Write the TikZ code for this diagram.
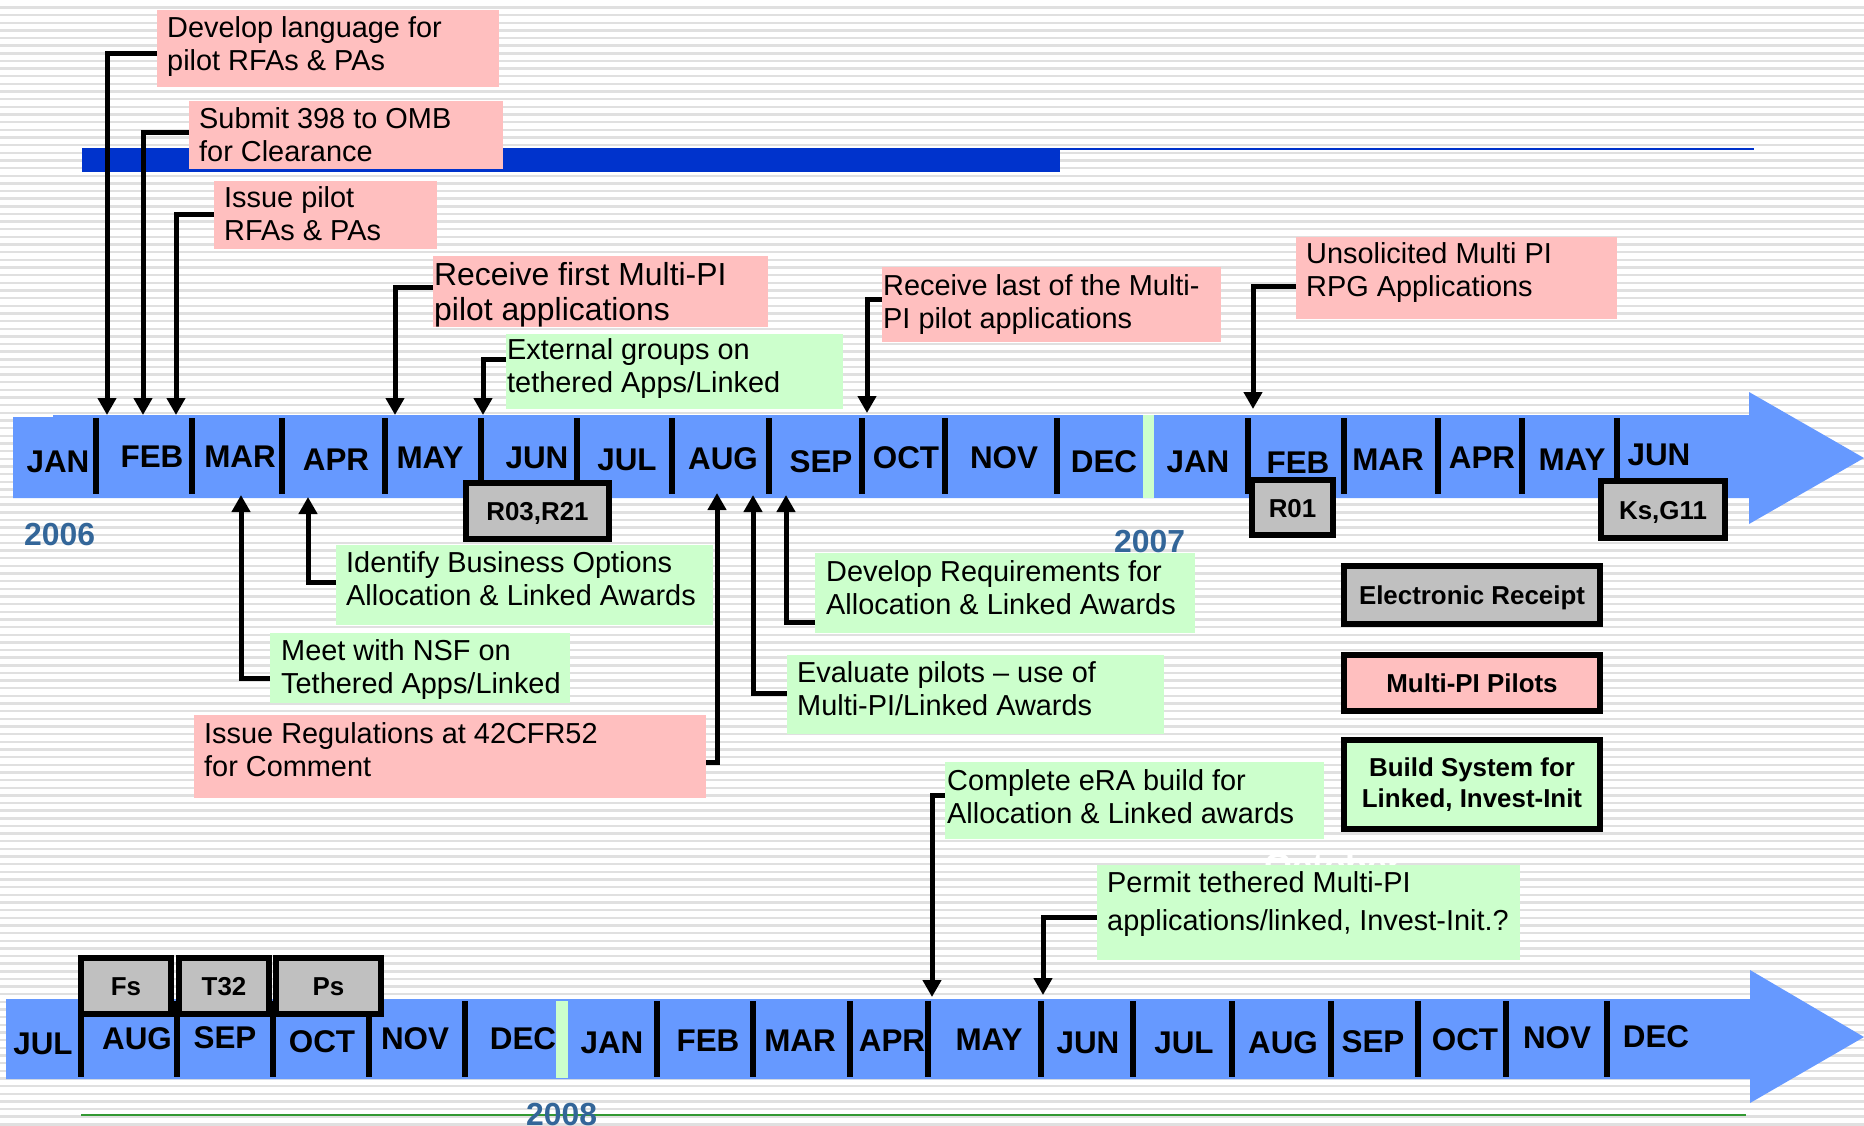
\documentclass[tikz,border=0pt]{standalone}
\usepackage{fontspec}
\setmainfont{Liberation Sans}
\usetikzlibrary{arrows.meta, positioning, calc}
\definecolor{barblue}{HTML}{6699FF}
\definecolor{bandblue}{HTML}{0033CC}
\definecolor{pinkfill}{HTML}{FFBFBF}
\definecolor{greenfill}{HTML}{CCFFCC}
\definecolor{grayfill}{HTML}{C0C0C0}
\definecolor{yearblue}{HTML}{336699}
\definecolor{stripegray}{HTML}{E0E0E0}
\definecolor{linegreen}{HTML}{339933}

\begin{document}
\begin{tikzpicture}[x=1bp, y=-1bp,
	conn/.style={line width=5bp, -{Triangle[width=18bp,length=17bp]}},
	pinkbox/.style={fill=pinkfill, anchor=north west, inner sep=0bp},
	greenbox/.style={fill=greenfill, anchor=north west, inner sep=0bp},
	txt/.style={font=\fontsize{29}{33.5}\selectfont, align=left, anchor=north west, inner sep=0bp},
	mon/.style={font=\bfseries\fontsize{31.5}{36}\selectfont, anchor=base, inner sep=0bp},
	monsep/.style={line width=6bp},
	tag/.style={draw, line width=6bp, fill=grayfill, inner sep=0bp, text height=19bp, text depth=0bp, font=\bfseries\fontsize{26}{30}\selectfont},
	legend/.style={draw, line width=6bp, minimum width=256bp, inner sep=0bp, align=center, font=\bfseries\fontsize{26}{31}\selectfont},
	year/.style={text=yearblue, font=\bfseries\fontsize{32}{36}\selectfont, anchor=base west, inner sep=0bp}]
	\useasboundingbox (0,0) rectangle (1864,1125);
	\fill[white] (0,0) rectangle (1864,1125);
	\foreach \k in {0,...,146}
		\fill[stripegray] (0,6.2+7.65*\k) rectangle (1864,8.6+7.65*\k);

	\fill[bandblue] (82,148) rectangle (1060,172);
	\draw[bandblue, line width=2bp] (1060,149) -- (1754,149);

	\fill[barblue] (13,417) -- (53,417) -- (53,415) -- (1749,415) -- (1749,392) -- (1864,458)
		-- (1749,524) -- (1749,498) -- (13,498) -- cycle;
	\fill[greenfill] (1143,415) rectangle (1154,498);
	\foreach \x in {96,192,282,385,481,577,672,769,862,945,1057,1248,1344,1438,1522,1617}
		\draw[monsep] (\x,418) -- (\x,494);
	\foreach \m/\x/\y [count=\i] in {JAN/58/472, FEB/152/467, MAR/240/467, APR/336/470, MAY/430/468,
		JUN/537/468, JUL/627/470, AUG/723/469, SEP/821/472, OCT/906/468, NOV/1004/468, DEC/1104/472,
		JAN/1198/472, FEB/1298/473, MAR/1388/470, APR/1482/468, MAY/1572/470, JUN/1659/465}
		\node[mon] (top\i) at (\x,\y) {\m};

	\fill[barblue] (6,999) -- (1750,999) -- (1750,970) -- (1864,1037) -- (1750,1103)
		-- (1750,1079) -- (6,1079) -- cycle;
	\fill[greenfill] (556,1001) rectangle (568,1078);
	\foreach \x in {81,177,273,369,465,657,753,850,928,1041,1133,1232,1331,1418,1506,1607}
		\draw[monsep] (\x,1001) -- (\x,1077);
	\foreach \m/\x/\y [count=\i] in {JUL/43/1054, AUG/137/1049, SEP/225/1048, OCT/322/1052, NOV/415/1049,
		DEC/523/1049, JAN/612/1053, FEB/708/1051, MAR/800/1051, APR/892/1051, MAY/989/1050, JUN/1088/1053,
		JUL/1184/1053, AUG/1283/1053, SEP/1373/1052, OCT/1465/1050, NOV/1557/1048, DEC/1656/1047}
		\node[mon] (bot\i) at (\x,\y) {\m};
	\draw[linegreen, line width=2.5bp] (81,1115) -- (1746,1115);

	\node[year] (y2006) at (24,545) {2006};
	\node[year] (y2007) at (1114,552) {2007};
	\node[year] (y2008) at (526,1125) {2008};

	\node[tag, minimum width=143bp, minimum height=56bp] (r03) at (537.5,511) {R03,R21};
	\node[tag, minimum width=81bp, minimum height=55bp] (r01) at (1292.5,507.5) {R01};
	\node[tag, minimum width=124bp, minimum height=57bp] (ks) at (1663,509.5) {Ks,G11};
	\node[tag, minimum width=90bp, minimum height=56bp] (fs) at (126,986) {Fs};
	\node[tag, minimum width=90bp, minimum height=56bp] (t32) at (224,986) {T32};
	\node[tag, minimum width=105bp, minimum height=56bp] (ps) at (328.5,986) {Ps};

	\node[pinkbox, minimum width=342bp, minimum height=77bp] (dev) at (157,10) {};
	\node[txt] (dev-t) at ([shift={(10bp,-6bp)}]dev.north west) {Develop language for\\pilot RFAs \& PAs};
	\node[pinkbox, minimum width=314bp, minimum height=68bp] (sub) at (189,101) {};
	\node[txt] (sub-t) at ([shift={(10bp,-6bp)}]sub.north west) {Submit 398 to OMB\\for Clearance};
	\node[pinkbox, minimum width=223bp, minimum height=68bp] (iss) at (214,181) {};
	\node[txt] (iss-t) at ([shift={(10bp,-5bp)}]iss.north west) {Issue pilot\\RFAs \& PAs};
	\node[pinkbox, minimum width=335bp, minimum height=71bp] (rf) at (433,256) {};
	\node[txt, font=\fontsize{32}{35}\selectfont] (rf-t) at ([shift={(1bp,-6bp)}]rf.north west) {Receive first Multi-PI\\pilot applications};
	\node[greenbox, minimum width=337bp, minimum height=75bp] (ext) at (506,334) {};
	\node[txt] (ext-t) at ([shift={(1bp,-4bp)}]ext.north west) {External groups on\\tethered Apps/Linked};
	\node[pinkbox, minimum width=339bp, minimum height=75bp] (rl) at (882,267) {};
	\node[txt] (rl-t) at ([shift={(1bp,-7bp)}]rl.north west) {Receive last of the Multi-\\PI pilot applications};
	\node[pinkbox, minimum width=321bp, minimum height=82bp] (uns) at (1296,237) {};
	\node[txt] (uns-t) at ([shift={(10bp,-5bp)}]uns.north west) {Unsolicited Multi PI\\RPG Applications};

	\node[greenbox, minimum width=377bp, minimum height=80bp] (idb) at (336,545) {};
	\node[txt] (idb-t) at ([shift={(10bp,-6bp)}]idb.north west) {Identify Business Options\\Allocation \& Linked Awards};
	\node[greenbox, minimum width=300bp, minimum height=70bp] (nsf) at (270,633) {};
	\node[txt] (nsf-t) at ([shift={(11bp,-6bp)}]nsf.north west) {Meet with NSF on\\Tethered Apps/Linked};
	\node[pinkbox, minimum width=512bp, minimum height=83bp] (reg) at (194,715) {};
	\node[txt] (reg-t) at ([shift={(10bp,-7bp)}]reg.north west) {Issue Regulations at 42CFR52\\for Comment};
	\node[greenbox, minimum width=380bp, minimum height=80bp] (dreq) at (815,553) {};
	\node[txt] (dreq-t) at ([shift={(11bp,-7bp)}]dreq.north west) {Develop Requirements for\\Allocation \& Linked Awards};
	\node[greenbox, minimum width=377bp, minimum height=79bp] (eva) at (787,655) {};
	\node[txt] (eva-t) at ([shift={(10bp,-6bp)}]eva.north west) {Evaluate pilots -- use of\\Multi-PI/Linked Awards};
	\node[greenbox, minimum width=379bp, minimum height=77bp] (era) at (945,762) {};
	\node[txt] (era-t) at ([shift={(2bp,-7bp)}]era.north west) {Complete eRA build for\\Allocation \& Linked awards};
	\node[text=white, font=\bfseries\fontsize{36}{40}\selectfont, anchor=base, inner sep=0bp] (oct) at (1333,878) {October};
	\node[greenbox, minimum width=423bp, minimum height=95bp] (per) at (1097,865) {};
	\node[txt, font=\fontsize{29}{38}\selectfont] (per-t) at ([shift={(10bp,-6bp)}]per.north west) {Permit tethered Multi-PI\\applications/linked, Invest-Init.?};

	\node[legend, fill=grayfill, minimum height=58bp, text height=19bp, text depth=0bp] (er) at (1472,595) {Electronic Receipt};
	\node[legend, fill=pinkfill, minimum height=56bp, text height=19bp, text depth=0bp] (mp) at (1472,683) {Multi-PI Pilots};
	\node[legend, fill=greenfill, minimum height=89bp] (bs) at (1472,784.5) {Build System for\\Linked, Invest-Init};

	\coordinate (tdev) at (107,415);
	\coordinate (tsub) at (143,415);
	\coordinate (tiss) at (176,415);
	\coordinate (trf) at (395,415);
	\coordinate (text) at (483,415);
	\coordinate (trl) at (867,413);
	\coordinate (tuns) at (1253,409);
	\coordinate (tnsf) at (241,495);
	\coordinate (tidb) at (308,497);
	\coordinate (treg) at (717,493);
	\coordinate (teva) at (753,495);
	\coordinate (tdreq) at (786,495);
	\coordinate (tera) at (932,997);
	\coordinate (tper) at (1043,995);

	\draw[conn] ([yshift=-4.5bp]dev.west) -| (tdev);
	\draw[conn] ([yshift=3bp]sub.west) -| (tsub);
	\draw[conn] ([yshift=1bp]iss.west) -| (tiss);
	\draw[conn] ([yshift=4.5bp]rf.west) -| (trf);
	\draw[conn] ([yshift=12.5bp]ext.west) -| (text);
	\draw[conn] ([yshift=5bp]rl.west) -| (trl);
	\draw[conn] ([yshift=-8bp]uns.west) -| (tuns);
	\draw[conn] ([yshift=-10bp]nsf.west) -| (tnsf);
	\draw[conn] ([yshift=3bp]idb.west) -| (tidb);
	\draw[conn] ([yshift=-5.5bp]reg.east) -| (treg);
	\draw[conn] ([yshift=1.5bp]eva.west) -| (teva);
	\draw[conn] ([yshift=-29bp]dreq.west) -| (tdreq);
	\draw[conn] ([yshift=5.5bp]era.west) -| (tera);
	\draw[conn] ([yshift=-4.5bp]per.west) -| (tper);
\end{tikzpicture}
\end{document}
